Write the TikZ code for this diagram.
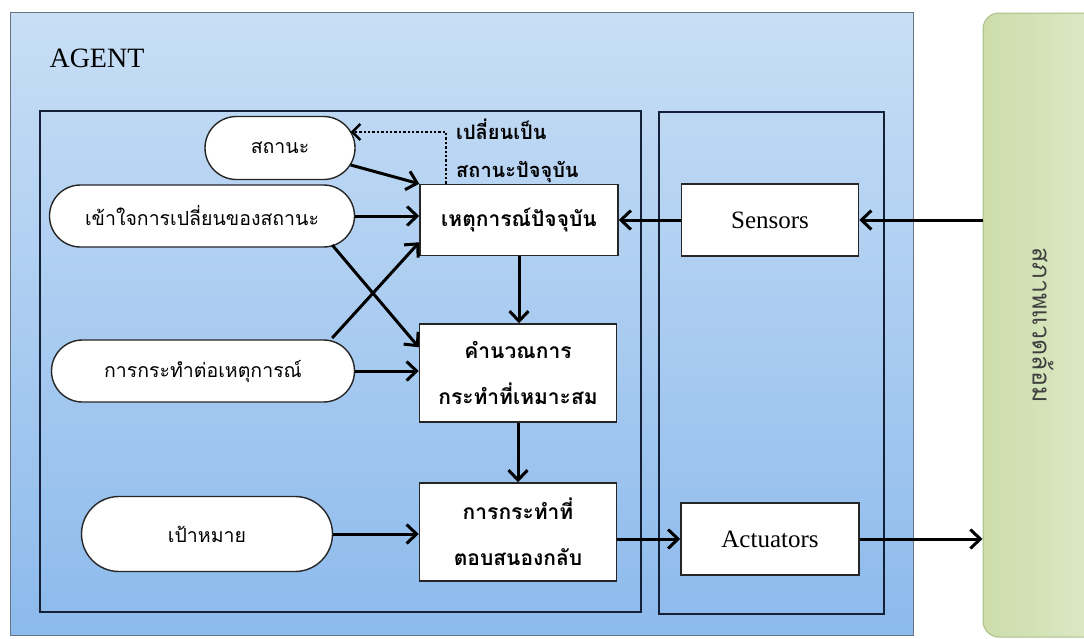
\documentclass[tikz,border=0pt]{standalone}
\usepackage{fontspec}
\setmainfont{Liberation Serif}
\newfontfamily\thai[Script=Thai]{Loma}
\usetikzlibrary{arrows.meta,calc,shapes.misc}
\definecolor{bluetop}{RGB}{200,222,245}
\definecolor{bluebot}{RGB}{140,186,236}
\definecolor{frameblue}{RGB}{40,55,80}
\definecolor{navy}{RGB}{20,32,55}
\definecolor{greenL}{RGB}{204,221,170}
\definecolor{greenR}{RGB}{222,233,200}
\definecolor{greenB}{RGB}{170,190,135}
\begin{document}
\begin{tikzpicture}[x=1pt,y=-1pt,
  pill/.style={draw=black!85, line width=1.4pt, fill=white, rounded rectangle,
    minimum height=62pt, inner sep=0pt, font=\thai\fontsize{19.5}{24}\selectfont},
  box/.style={draw=black!85, line width=1.5pt, fill=white, rectangle, inner sep=0pt,
    align=center, font=\thai\bfseries\fontsize{21}{46}\selectfont},
  enbox/.style={draw=black!85, line width=1.5pt, fill=white, rectangle, inner sep=0pt,
    font=\fontsize{25}{28}\selectfont},
  frame/.style={draw=navy, line width=1.6pt},
  arr/.style={line width=3pt, -{Straight Barb[length=10pt,width=19pt]}},
  dotarr/.style={line width=2.4pt, dotted, -{Straight Barb[length=8pt,width=16pt,line width=2.4pt]}}
]
\useasboundingbox (0,0) rectangle (1084,638);
\clip (0,0) rectangle (1084,638);
\fill[white] (0,0) rectangle (1084,638);
% outer agent area
\shade[top color=bluetop, bottom color=bluebot] (10,12) rectangle (913,635);
\draw[draw=frameblue!70, line width=1pt] (10,12) rectangle (913,635);
\node[anchor=west, font=\fontsize{28}{30}\selectfont] (agent) at (46,58) {AGENT};
% inner frames
\draw[frame] (40,111) rectangle (641,612);
\draw[frame] (659,112) rectangle (884,614);
% environment
\node[draw=greenB, line width=1pt, rounded corners=16pt, left color=greenL, right color=greenR,
  minimum width=120pt, minimum height=624pt, inner sep=0pt,
  font=\thai\fontsize{25}{28}\selectfont, text=black!75] (env) at (1043,325)
  {\rotatebox{-90}{สภาพแวดล้อม}};
% left nodes
\node[pill, minimum width=150pt, minimum height=63pt] (st) at (280,148) {สถานะ};
\node[pill, minimum width=305pt] (u) at (202,216) {เข้าใจการเปลี่ยนของสถานะ};
\node[pill, minimum width=303pt] (ac) at (203,371) {การกระทำต่อเหตุการณ์};
\node[pill, minimum width=251pt, minimum height=75pt] (g) at (207,534) {เป้าหมาย};
% process boxes
\node[box, minimum width=198pt, minimum height=71pt] (ev) at (519,220) {เหตุการณ์ปัจจุบัน};
\node[box, minimum width=197pt, minimum height=98pt] (calc) at (518,373) {คำนวณการ\\กระทำที่เหมาะสม};
\node[box, minimum width=197pt, minimum height=98pt] (resp) at (518,532) {การกระทำที่\\ตอบสนองกลับ};
% sensors / actuators
\node[enbox, minimum width=177pt, minimum height=72pt] (sen) at (770,220) {Sensors};
\node[enbox, minimum width=178pt, minimum height=72pt] (act) at (770,539) {Actuators};
% dotted label
\node[anchor=west, align=left, inner sep=0pt, font=\thai\bfseries\fontsize{20}{38}\selectfont] (lbl) at (456,151) {เปลี่ยนเป็น\\สถานะปัจจุบัน};
% connectors
\draw[arr] ($(st.east)+(-5,17)$) -- (ev.north west);
\draw[arr] (u.east) -- (u.east -| ev.west);
\draw[arr] ($(u.east)+(-23,29)$) -- ($(calc.north west)+(0,24)$);
\draw[arr] ($(ac.east)+(-23,-33)$) -- ($(ev.south west)+(0,-14)$);
\draw[arr] (ac.east) -- (ac.east -| calc.west);
\draw[arr] (ev.south) -- (ev.south |- calc.north);
\draw[arr] (calc.south) -- (resp.north);
\draw[arr] (g.east) -- (g.east -| resp.west);
\draw[arr] (resp.east |- act.west) -- (act.west);
\draw[arr] (sen.west) -- (sen.west -| ev.east);
\draw[arr] (env.west |- sen.east) -- (sen.east);
\draw[arr] (act.east) -- (act.east -| env.west);
\draw[dotarr] ($(ev.north west)+(27,0)$) |- ($(st.east)+(-5,-16)$);
\end{tikzpicture}
\end{document}
